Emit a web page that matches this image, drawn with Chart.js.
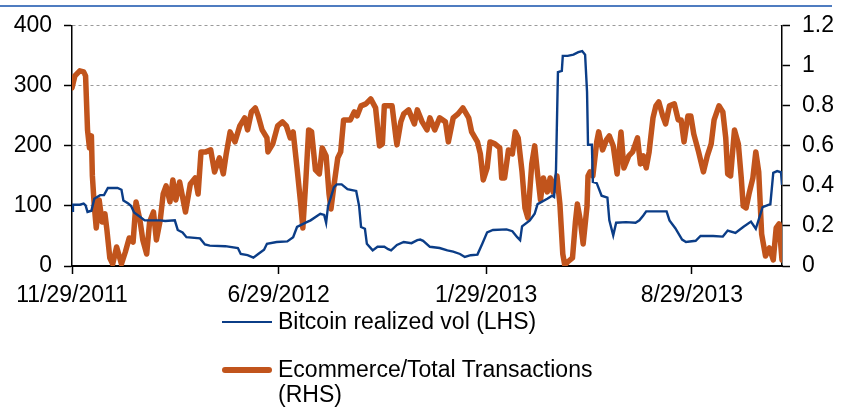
<!DOCTYPE html>
<html>
<head>
<meta charset="utf-8">
<script src="https://cdn.jsdelivr.net/npm/chart.js@4.4.1/dist/chart.umd.min.js"></script>
<style>
  body { margin: 0; background: #fff; font-family: "Liberation Sans", Arial, sans-serif; }
  #wrap { position: relative; width: 842px; height: 407px; overflow: hidden; }
  #topRule { position: absolute; left: 0; top: 5px; width: 832px; height: 2px; background: #4f7cc0; }
  #chart { position: absolute; left: 0; top: 0; }
  .leg { position: absolute; left: 222px; font-size: 23px; color: #000; }
  .leg .swatch { position: absolute; left: 0; width: 50px; }
  .leg .txt { position: absolute; left: 56px; width: 360px; line-height: 25px; white-space: normal; }
</style>
</head>
<body>
<div id="wrap">
  <div id="topRule"></div>
  <canvas id="chart" width="842" height="320"></canvas>
  <div class="leg" style="top:322px">
    <div class="swatch" style="top:-1px;height:2px;background:#0b3d87"></div>
    <div class="txt" style="top:-13px">Bitcoin realized vol (LHS)</div>
  </div>
  <div class="leg" style="top:370px">
    <div class="swatch" style="top:-3px;height:6px;background:#c1541c;border-radius:3px"></div>
    <div class="txt" style="top:-13px">Ecommerce/Total Transactions (RHS)</div>
  </div>
</div>
<script>
// days counted from 11/29/2011
const tickDays = [0, 213, 427, 639];
const tickLabels = ['11/29/2011', '6/29/2012', '1/29/2013', '8/29/2013'];

// Bitcoin realized vol (LHS)
const volDays = [0, 1, 8, 12, 14, 16, 20, 23, 29, 33, 37, 47, 51, 53, 58, 61, 64, 70, 75, 91, 96, 106, 109, 114, 118, 132, 135, 137, 142, 158, 171, 174, 181, 187, 192, 198, 201, 211, 222, 228, 232, 242, 246, 256, 260, 262, 264, 267, 270, 273, 278, 284, 290, 293, 296, 298, 302, 304, 310, 315, 322, 326, 329, 335, 342, 350, 356, 359, 362, 369, 379, 387, 393, 400, 405, 411, 418, 423, 428, 434, 448, 454, 459, 462, 464, 472, 477, 480, 490, 495, 497, 499, 501, 505, 506, 511, 517, 522, 526, 529, 531, 532, 536, 537, 541, 546, 552, 554, 558, 561, 571, 581, 585, 589, 592, 613, 616, 622, 629, 633, 643, 648, 661, 671, 676, 684, 692, 700, 705, 712, 720, 723, 727, 731, 732];
const volValues = [92, 102, 102, 104, 101, 90, 92, 112, 118, 118, 130, 130, 127, 109, 104, 100, 89, 82, 76, 76, 75, 76, 60, 56, 48, 46, 40, 36, 34, 33, 30, 20, 18, 14, 20, 27, 37, 40, 41, 48, 65, 73, 76, 87, 85, 72, 100, 115, 131, 136, 136, 128, 126, 125, 100, 65, 62, 37, 26, 32, 32, 28, 26, 35, 40, 38, 43, 44, 42, 32, 30, 26, 24, 20, 15, 18, 19, 37, 56, 60, 61, 58, 48, 43, 66, 76, 87, 103, 112, 117, 115, 160, 323, 325, 350, 350, 352, 356, 358, 352, 290, 202, 202, 140, 138, 117, 114, 76, 51, 72, 73, 72, 76, 84, 91, 91, 76, 63, 44, 40, 42, 50, 50, 49, 59, 55, 65, 74, 62, 98, 103, 155, 158, 156, 135];

// Ecommerce / total transactions (RHS)
const ecomDays = [0, 3, 8, 12, 14, 16, 18, 20, 21, 23, 25, 28, 31, 34, 36, 39, 42, 46, 51, 55, 59, 63, 66, 70, 73, 77, 80, 84, 87, 91, 94, 97, 101, 104, 107, 111, 117, 122, 127, 130, 133, 138, 143, 147, 152, 156, 159, 163, 168, 173, 178, 181, 185, 189, 192, 196, 201, 202, 207, 212, 217, 221, 225, 228, 232, 236, 238, 241, 244, 247, 251, 255, 258, 262, 265, 267, 270, 274, 277, 280, 287, 291, 294, 298, 303, 308, 313, 317, 320, 322, 327, 330, 334, 335, 339, 342, 347, 353, 356, 361, 366, 369, 374, 379, 385, 388, 393, 398, 403, 409, 412, 418, 421, 424, 428, 431, 436, 441, 443, 446, 450, 454, 457, 460, 464, 467, 470, 474, 477, 480, 483, 486, 490, 493, 496, 500, 503, 506, 508, 511, 516, 519, 521, 524, 527, 531, 532, 534, 537, 541, 543, 547, 551, 554, 558, 562, 566, 569, 574, 578, 583, 586, 589, 592, 595, 599, 602, 605, 609, 612, 616, 621, 625, 628, 631, 635, 638, 641, 646, 651, 655, 659, 662, 667, 671, 674, 676, 679, 683, 687, 690, 692, 695, 698, 702, 705, 708, 711, 715, 719, 723, 726, 729, 732];
const ecomValues = [0.89, 0.95, 0.975, 0.97, 0.95, 0.68, 0.59, 0.65, 0.45, 0.30, 0.19, 0.33, 0.22, 0.26, 0.18, 0.04, 0.01, 0.095, 0.01, 0.07, 0.14, 0.12, 0.32, 0.23, 0.13, 0.06, 0.22, 0.27, 0.13, 0.23, 0.36, 0.40, 0.32, 0.43, 0.33, 0.42, 0.27, 0.41, 0.44, 0.36, 0.57, 0.57, 0.58, 0.47, 0.54, 0.46, 0.56, 0.67, 0.62, 0.70, 0.74, 0.68, 0.77, 0.79, 0.75, 0.68, 0.64, 0.57, 0.61, 0.70, 0.72, 0.70, 0.64, 0.67, 0.49, 0.30, 0.19, 0.42, 0.68, 0.67, 0.48, 0.46, 0.59, 0.55, 0.36, 0.285, 0.40, 0.54, 0.57, 0.73, 0.73, 0.77, 0.75, 0.80, 0.81, 0.835, 0.79, 0.60, 0.61, 0.80, 0.80, 0.80, 0.64, 0.605, 0.72, 0.76, 0.78, 0.71, 0.78, 0.72, 0.68, 0.74, 0.68, 0.74, 0.72, 0.62, 0.74, 0.76, 0.79, 0.74, 0.67, 0.62, 0.56, 0.43, 0.49, 0.62, 0.61, 0.59, 0.44, 0.44, 0.58, 0.56, 0.67, 0.64, 0.47, 0.29, 0.24, 0.51, 0.60, 0.46, 0.33, 0.44, 0.37, 0.44, 0.37, 0.45, 0.31, 0.06, 0.005, 0.02, 0.04, 0.22, 0.31, 0.23, 0.11, 0.30, 0.45, 0.47, 0.45, 0.62, 0.67, 0.58, 0.63, 0.65, 0.60, 0.46, 0.67, 0.49, 0.55, 0.57, 0.64, 0.51, 0.55, 0.49, 0.57, 0.74, 0.80, 0.82, 0.75, 0.71, 0.80, 0.81, 0.73, 0.73, 0.62, 0.75, 0.75, 0.66, 0.57, 0.47, 0.55, 0.61, 0.73, 0.80, 0.77, 0.64, 0.46, 0.45, 0.68, 0.61, 0.44, 0.30, 0.29, 0.36, 0.44, 0.57, 0.47, 0.16, 0.05, 0.09, 0.03, 0.19, 0.21, 0.03];

const toPoints = (xs, ys) => xs.map((d, i) => ({ x: d, y: ys[i] }));
const font = { family: '"Liberation Sans", Arial, sans-serif', size: 23 };

new Chart(document.getElementById('chart').getContext('2d'), {
  type: 'line',
  data: {
    datasets: [{
      label: 'Bitcoin realized vol (LHS)',
      data: toPoints(volDays, volValues),
      borderColor: '#0b3d87',
      borderWidth: 2.4,
      pointRadius: 0,
      tension: 0,
      yAxisID: 'y'
    }, {
      label: 'Ecommerce/Total Transactions (RHS)',
      data: toPoints(ecomDays, ecomValues),
      borderColor: '#c1541c',
      borderWidth: 5.5,
      borderJoinStyle: 'round',
      borderCapStyle: 'round',
      pointRadius: 0,
      tension: 0,
      yAxisID: 'y1'
    }]
  },
  options: {
    responsive: false,
    animation: false,
    layout: { padding: { top: 22 } },
    plugins: {
      legend: { display: false },
      tooltip: { enabled: false }
    },
    scales: {
      x: {
        type: 'linear',
        min: 0,
        max: 732,
        afterBuildTicks: s => { s.ticks = tickDays.map(v => ({ value: v })); },
        afterFit: s => { s.height = 54; },
        ticks: {
          autoSkip: false,
          maxRotation: 0,
          padding: 8,
          color: '#000',
          font: font,
          callback: (v) => tickLabels[tickDays.indexOf(v)]
        },
        grid: { drawOnChartArea: false, tickLength: 8, tickColor: '#000', tickWidth: 1.5 },
        border: { color: '#000', width: 2 }
      },
      y: {
        position: 'left',
        min: 0,
        max: 400,
        afterBuildTicks: s => { s.ticks = [0, 100, 200, 300, 400].map(v => ({ value: v })); },
        afterFit: s => { s.width = 72; },
        ticks: { padding: 12, color: '#000', font: font },
        grid: { color: '#9a9a9a', lineWidth: 1, tickLength: 8, tickColor: '#000', tickWidth: 1.5 },
        border: { color: '#000', width: 1.5, dash: [3, 3] }
      },
      y1: {
        position: 'right',
        min: 0,
        max: 1.2,
        afterBuildTicks: s => { s.ticks = [0, 0.2, 0.4, 0.6, 0.8, 1, 1.2].map(v => ({ value: v })); },
        afterFit: s => { s.width = 60; },
        ticks: { padding: 12, color: '#000', font: font, callback: v => String(Number(v.toFixed(1))) },
        grid: { drawOnChartArea: false, tickLength: 8, tickColor: '#000', tickWidth: 1.5 },
        border: { color: '#000', width: 1.5 }
      }
    }
  }
});
</script>
</body>
</html>
